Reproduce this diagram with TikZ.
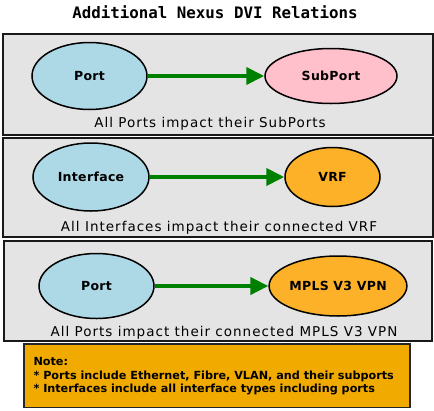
\documentclass[tikz,border=0pt]{standalone}
\usepackage{fontspec}
\setmainfont{DejaVu Sans}
\newfontfamily\titlefont{DejaVu Sans Mono}
\newfontfamily\capfont[LetterSpace=7.5]{DejaVu Sans}
\newfontfamily\entfont[LetterSpace=2.5]{DejaVu Sans}
\usetikzlibrary{shapes.geometric,arrows.meta}
\definecolor{panelgray}{HTML}{E4E4E4}
\definecolor{nodeblue}{HTML}{ADD8E6}
\definecolor{nodepink}{HTML}{FFC0CB}
\definecolor{nodeorange}{HTML}{FDB128}
\definecolor{noteorange}{HTML}{F0AA00}
\definecolor{relgreen}{HTML}{008000}
\tikzset{
  panel/.style={draw=black!90, fill=panelgray, line width=2pt, rectangle, anchor=north west, inner sep=0pt},
  ent/.style={draw=black, ellipse, line width=1.5pt, inner sep=0pt, font=\entfont\fontsize{12.5}{14}\selectfont\bfseries},
  rel/.style={draw=relgreen, line width=4pt, -{Triangle[length=18pt,width=17pt]}},
  caption/.style={anchor=base, inner sep=0pt, font=\capfont\fontsize{13.5}{15}\selectfont},
  notebox/.style={draw=black!85, fill=noteorange, line width=1.5pt, rectangle, anchor=north west, inner sep=0pt},
  notetext/.style={anchor=base west, inner sep=0pt, font=\fontsize{11.2}{13}\selectfont\bfseries},
}
\begin{document}
\begin{tikzpicture}[x=1pt,y=-1pt]
\useasboundingbox (0,0) rectangle (434,410);
\fill[white] (0,0) rectangle (434,410);
% title
\node[anchor=base, inner sep=0pt, font=\titlefont\fontsize{15.8}{18}\selectfont\bfseries] (title) at (215,18.5) {Additional Nexus DVI Relations};
% panels
\node[panel, minimum width=430pt, minimum height=100.5pt] (box1) at (1.5,33) {};
\node[panel, minimum width=430pt, minimum height=99pt] (box2) at (1.5,137) {};
\node[panel, minimum width=427.5pt, minimum height=100.5pt] (box3) at (3,239.5) {};
% panel 1
\node[ent, fill=nodeblue, minimum width=115pt, minimum height=67pt] (port1) at (89.5,76) {Port};
\node[ent, fill=nodepink, minimum width=132pt, minimum height=55pt] (sub1) at (331,76) {SubPort};
\draw[rel] (port1) -- (sub1);
\node[caption] (cap1) at (210,127.5) {All Ports impact their SubPorts};
% panel 2
\node[ent, fill=nodeblue, minimum width=116pt, minimum height=68pt] (if2) at (91,177) {Interface};
\node[ent, fill=nodeorange, minimum width=95pt, minimum height=59pt] (vrf2) at (332.5,177) {VRF};
\draw[rel] (if2) -- (vrf2);
\node[caption] (cap2) at (219,231.5) {All Interfaces impact their connected VRF};
% panel 3
\node[ent, fill=nodeblue, minimum width=115pt, minimum height=65pt] (port3) at (96.5,286) {Port};
\node[ent, fill=nodeorange, minimum width=128pt, minimum height=60pt] (mpls3) at (338,286) {MPLS V3 VPN};
\draw[rel] (port3) -- (mpls3);
\node[caption] (cap3) at (224,336.5) {All Ports impact their connected MPLS V3 VPN};
% note
\node[notebox, minimum width=386pt, minimum height=63.5pt] (note) at (23,343.3) {};
\node[notetext] (n1) at (33.3,365) {Note:};
\node[notetext] (n2) at (33.3,379) {* Ports include Ethernet, Fibre, VLAN, and their subports};
\node[notetext] (n3) at (33.3,392.7) {* Interfaces include all interface types including ports};
\end{tikzpicture}
\end{document}
